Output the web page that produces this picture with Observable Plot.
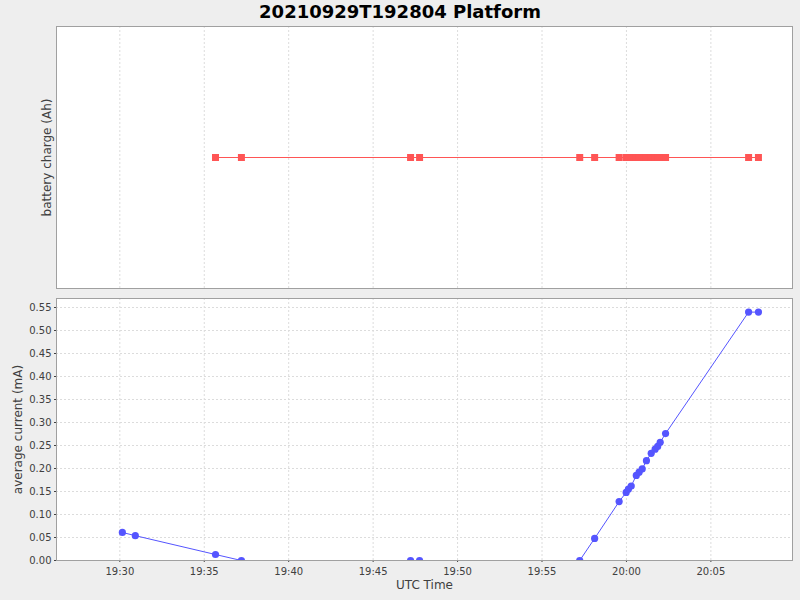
<!DOCTYPE html>
<html><head><meta charset="utf-8">
<script src="https://cdn.jsdelivr.net/npm/d3@7"></script>
<script src="https://cdn.jsdelivr.net/npm/@observablehq/plot@0.6"></script>
<style>
body{margin:0;background:#eeeeee;font-family:"DejaVu Sans",sans-serif;width:800px;height:600px;overflow:hidden;}
#title{height:26px;line-height:24px;text-align:center;font-weight:bold;font-size:18px;color:#000;}
svg{display:block}
</style></head><body>
<div id="title">20210929T192804 Platform</div>
<div id="topPanel"></div><div id="bottomPanel"></div>
<script>
const day = "2021-09-29";
const domainTimes = ["19:26:15", "20:09:50"];
const tickLabels = ["19:30","19:35","19:40","19:45","19:50","19:55","20:00","20:05"];
const yTicks = [0,0.05,0.10,0.15,0.20,0.25,0.30,0.35,0.40,0.45,0.50,0.55];
const yMax = 0.5696;

// average current series
const currentTimes = ["19:30:09","19:30:55","19:35:40","19:37:12","19:47:13","19:47:45","19:57:14","19:58:07","19:59:34","19:59:59","20:00:07","20:00:17","20:00:35","20:00:45","20:00:56","20:01:11","20:01:28","20:01:42","20:01:51","20:02:00","20:02:19","20:07:14","20:07:49"];
const currentValues = [0.061,0.054,0.013,0,0,0,0,0.048,0.128,0.148,0.155,0.162,0.185,0.192,0.199,0.217,0.233,0.242,0.248,0.257,0.276,0.540,0.540];

// battery charge series (constant, no scale shown)
const chargeTimes = ["19:35:40","19:37:12","19:47:13","19:47:45","19:57:14","19:58:07","19:59:34","19:59:59","20:00:07","20:00:17","20:00:35","20:00:45","20:00:56","20:01:11","20:01:28","20:01:42","20:01:51","20:02:00","20:02:19","20:07:14","20:07:49"];
const chargeValues = [0,0,0,0,0,0,0,0,0,0,0,0,0,0,0,0,0,0,0,0,0];

const parseT = s => new Date(`${day}T${s.length === 5 ? s + ":00" : s}Z`);
const xDomain = domainTimes.map(parseT);
const tickDates = tickLabels.map(parseT);
const currentData = currentTimes.map((t, i) => ({t: parseT(t), v: currentValues[i]}));
const chargeData = chargeTimes.map((t, i) => ({t: parseT(t), v: chargeValues[i]}));

const gridStroke = "#dcdcdc";
const labelColor = "#404040";
const common = {
  width: 800, marginLeft: 56, marginRight: 8,
  style: {background: "transparent", fontFamily: "DejaVu Sans", fontSize: "10px", color: labelColor, overflow: "visible"}
};

const topChart = Plot.plot({
  ...common,
  height: 266, marginTop: 0, marginBottom: 4,
  x: {type: "utc", domain: xDomain, axis: null},
  y: {domain: [-1, 1], axis: null},
  marks: [
    Plot.frame({fill: "white", stroke: null}),
    Plot.ruleX(tickDates, {stroke: gridStroke, strokeDasharray: "2,2"}),
    Plot.line(chargeData, {x: "t", y: "v", stroke: "#ff5555", strokeWidth: 1.2, clip: true}),
    Plot.dot(chargeData, {x: "t", y: "v", symbol: "square", r: 3.95, fill: "#ff5555", stroke: null, clip: true}),
    Plot.frame({stroke: "#a0a0a0"}),
    Plot.text(["battery charge (Ah)"], {text: d => d, frameAnchor: "left", textAnchor: "middle", dx: -9, rotate: -90, fontSize: 12, fill: labelColor})
  ]
});
document.getElementById("topPanel").appendChild(topChart);

const bottomChart = Plot.plot({
  ...common,
  height: 308, marginTop: 6, marginBottom: 40,
  x: {type: "utc", domain: xDomain, ticks: tickDates, tickFormat: d3.utcFormat("%H:%M"), tickSize: 2, tickPadding: 5, label: null},
  y: {domain: [0, yMax], ticks: yTicks, tickFormat: d3.format(".2f"), tickSize: 2, tickPadding: 3, label: null},
  marks: [
    Plot.frame({fill: "white", stroke: null}),
    Plot.ruleX(tickDates, {stroke: gridStroke, strokeDasharray: "2,2"}),
    Plot.ruleY(yTicks.slice(1), {stroke: gridStroke, strokeDasharray: "2,2"}),
    Plot.line(currentData, {x: "t", y: "v", stroke: "#5555ff", strokeWidth: 1, clip: true}),
    Plot.dot(currentData, {x: "t", y: "v", r: 3.6, fill: "#5555ff", stroke: null, clip: true}),
    Plot.frame({stroke: "#a0a0a0"}),
    Plot.text(["average current (mA)"], {text: d => d, frameAnchor: "left", textAnchor: "middle", dx: -38, rotate: -90, fontSize: 12, fill: labelColor}),
    Plot.text(["UTC Time"], {text: d => d, frameAnchor: "bottom", dy: 28, fontSize: 12, fill: labelColor})
  ]
});
document.getElementById("bottomPanel").appendChild(bottomChart);
</script>
</body></html>
